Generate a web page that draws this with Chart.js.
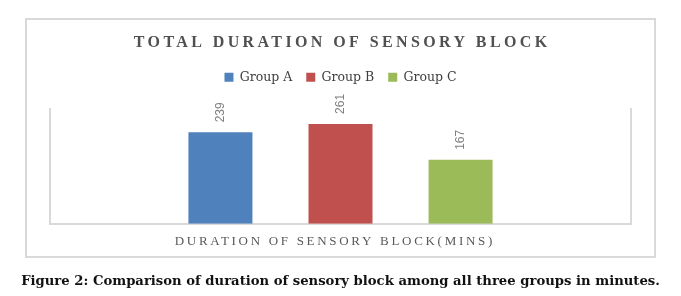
<!DOCTYPE html>
<html>
<head>
<meta charset="utf-8">
<script src="https://cdn.jsdelivr.net/npm/chart.js@4.4.1/dist/chart.umd.min.js"></script>
<style>
  html, body { margin: 0; padding: 0; background: #ffffff; }
  .page { position: relative; width: 681px; height: 296px; overflow: hidden; }
  .frame {
    position: absolute; left: 25px; top: 18px; width: 631px; height: 240px;
    box-sizing: border-box; border: 2px solid #d9d9d9;
  }
  #chart { position: absolute; left: 0; top: 0; }
  .caption {
    position: absolute; left: 0; width: 681px; top: 273px; text-align: center;
    font-family: "DejaVu Serif", serif; font-weight: bold; font-size: 13.2px;
    color: #111111; white-space: nowrap;
  }
</style>
</head>
<body>
<div class="page">
  <div class="frame"></div>
  <canvas id="chart" width="681" height="296"></canvas>
  <div class="caption">Figure 2: Comparison of duration of sensory block among all three groups in minutes.</div>
</div>
<script>
const categories = ["Duration of sensory block(mins)"];
const groupNames = ["Group A", "Group B", "Group C"];
const groupColors = ["#4F81BD", "#C0504D", "#9BBB59"];
const groupA = [239];
const groupB = [261];
const groupC = [167];
const yMax = 300;

const chartTitle = "TOTAL DURATION OF SENSORY BLOCK";
const axisTitle = "DURATION OF SENSORY BLOCK(MINS)";

// letter-spaced text (title + axis title) and rotated value labels
const textPlugin = {
  id: "spacedText",
  afterDatasetsDraw(chart) {
    const ctx = chart.ctx;
    ctx.save();
    ctx.font = '12px "Liberation Sans", Arial, sans-serif';
    ctx.fillStyle = "#7f7f7f";
    ctx.textAlign = "left";
    ctx.textBaseline = "middle";
    chart.data.datasets.forEach((ds, i) => {
      const meta = chart.getDatasetMeta(i);
      meta.data.forEach((bar, j) => {
        ctx.save();
        ctx.translate(bar.x, bar.y - 10);
        ctx.rotate(-Math.PI / 2);
        ctx.fillText(String(ds.data[j]), 0, 0);
        ctx.restore();
      });
    });
    ctx.restore();
  },
  afterDraw(chart) {
    const ctx = chart.ctx;
    const area = chart.chartArea;
    const mid = (area.left + area.right) / 2;
    drawSpaced(ctx, chartTitle, mid, 43, 'bold 16px "Liberation Serif", serif', "#505050", 3.4);
    drawSpaced(ctx, axisTitle, mid - 7, area.bottom + 18, '13px "Liberation Serif", serif', "#595959", 2.7);
  },
};

function drawSpaced(ctx, text, cx, cy, font, color, spacing) {
  ctx.save();
  ctx.font = font;
  ctx.letterSpacing = spacing + "px";
  ctx.fillStyle = color;
  ctx.textAlign = "left";
  ctx.textBaseline = "middle";
  const w = ctx.measureText(text).width - spacing;
  ctx.fillText(text, cx - w / 2, cy);
  ctx.restore();
}

const seriesValues = [groupA, groupB, groupC];

new Chart(document.getElementById("chart"), {
  type: "bar",
  data: {
    labels: categories,
    datasets: groupNames.map((name, i) => ({
      label: name,
      data: seriesValues[i],
      backgroundColor: groupColors[i],
      borderWidth: 0,
      barPercentage: 0.533,
      categoryPercentage: 0.62,
    })),
  },
  options: {
    responsive: false,
    animation: false,
    layout: { padding: { top: 57, left: 50, right: 50, bottom: 72.3 } },
    plugins: {
      title: { display: false },
      subtitle: {
        display: true,
        text: "",
        font: { size: 10, lineHeight: 1.2 },
        padding: { top: 0, bottom: 3.5 },
      },
      legend: {
        position: "top",
        weight: 1600,
        labels: {
          boxWidth: 9,
          boxHeight: 9,
          padding: 14,
          color: "#404040",
          font: { family: '"DejaVu Serif", serif', size: 12.5 },
        },
      },
      tooltip: { enabled: false },
    },
    scales: {
      x: {
        ticks: { display: false },
        grid: { display: false, drawTicks: false },
        border: { display: true, color: "#d9d9d9", width: 2 },
      },
      y: {
        min: 0,
        max: yMax,
        ticks: { display: false },
        grid: { display: false, drawTicks: false },
        border: { display: true, color: "#d9d9d9", width: 2 },
      },
      y2: {
        position: "right",
        min: 0,
        max: yMax,
        ticks: { display: false },
        grid: { display: false, drawTicks: false },
        border: { display: true, color: "#d9d9d9", width: 2 },
      },
    },
  },
  plugins: [textPlugin],
});
</script>
</body>
</html>
